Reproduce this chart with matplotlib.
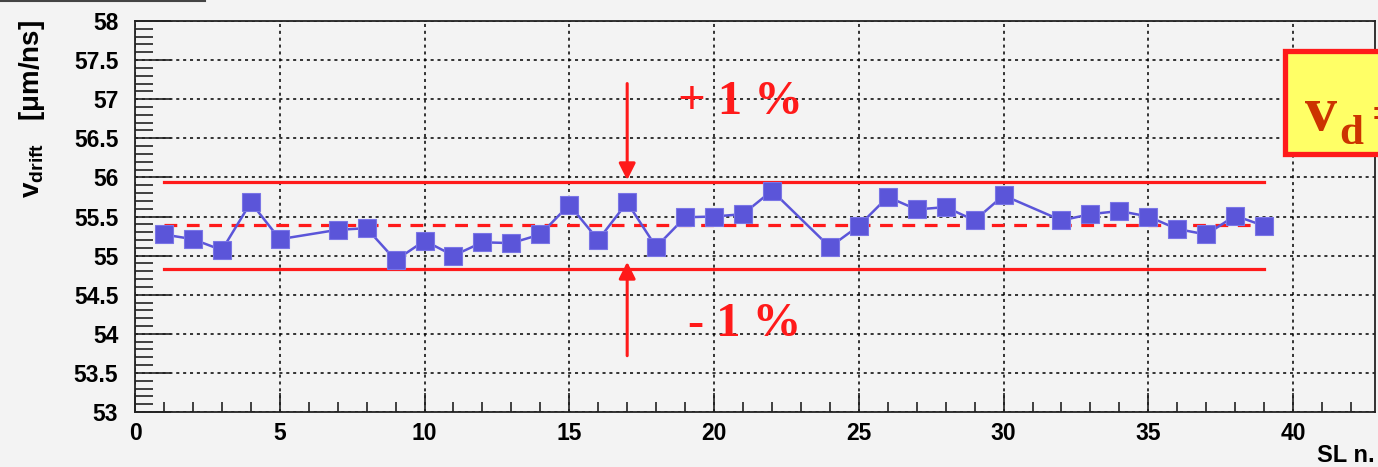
import matplotlib
matplotlib.use("Agg")
import matplotlib.pyplot as plt
from matplotlib.patches import Rectangle
from matplotlib.lines import Line2D
from matplotlib.ticker import MultipleLocator

plt.rcParams['mathtext.fontset'] = 'custom'
plt.rcParams['mathtext.rm'] = 'Liberation Sans:bold'
plt.rcParams['mathtext.bf'] = 'Liberation Sans:bold'
plt.rcParams['mathtext.it'] = 'Liberation Sans:bold'

# superlayer number and drift velocity (um/ns)
sl = [1, 2, 3, 4, 5, 7, 8, 9, 10, 11, 12, 13, 14, 15, 16, 17, 18, 19, 20, 21, 22,
      24, 25, 26, 27, 28, 29, 30, 32, 33, 34, 35, 36, 37, 38, 39]
vdrift = [55.27, 55.21, 55.07, 55.68, 55.21, 55.33, 55.35, 54.94, 55.19, 55.00,
          55.17, 55.16, 55.27, 55.65, 55.20, 55.68, 55.11, 55.49, 55.50, 55.53,
          55.83, 55.11, 55.38, 55.75, 55.59, 55.62, 55.45, 55.77, 55.45, 55.53,
          55.57, 55.50, 55.34, 55.27, 55.51, 55.38]

mean_v = 55.39
band_hi = 55.945
band_lo = 54.835
band_x = [1, 39]

xticks = [0, 5, 10, 15, 20, 25, 30, 35, 40]
yticks = [53, 53.5, 54, 54.5, 55, 55.5, 56, 56.5, 57, 57.5, 58]
ytick_labels = ['53', '53.5', '54', '54.5', '55', '55.5', '56', '56.5', '57', '57.5', '58']

bg = '#f3f3f3'
red = '#ff1a1a'
blue = '#5b55d9'

fig = plt.figure(figsize=(13.78, 4.67), dpi=100, facecolor=bg)
ax = fig.add_axes([135 / 1378, 1 - 412 / 467, (1375 - 135) / 1378, (412 - 21) / 467])
ax.set_facecolor(bg)

ax.set_xlim(0, 42.83)
ax.set_ylim(53, 58)

# grid
ax.set_xticks(xticks)
ax.set_yticks(yticks)
ax.set_yticklabels(ytick_labels)
ax.xaxis.set_minor_locator(MultipleLocator(1))
ax.yaxis.set_minor_locator(MultipleLocator(0.1))
ax.grid(True, which='major', color='black', linestyle=(0, (2, 2.5)), linewidth=1.1)
ax.set_axisbelow(True)

ax.tick_params(which='major', direction='in', length=26, width=1.2, color='#222222',
               labelsize=16.5, pad=12)
ax.tick_params(axis='x', which='major', length=14, pad=7)
ax.tick_params(axis='y', which='minor', direction='in', length=13, width=1.2, color='#222222')
ax.tick_params(axis='x', which='minor', direction='in', length=7, width=1.2, color='#222222')
for lab in ax.get_xticklabels() + ax.get_yticklabels():
    lab.set_fontfamily('Liberation Sans')
    lab.set_fontweight('bold')
for sp in ax.spines.values():
    sp.set_linewidth(1.3)
    sp.set_color('#222222')

# +-1% band
ax.plot(band_x, [band_hi, band_hi], color=red, lw=2.3, zorder=3)
ax.plot(band_x, [band_lo, band_lo], color=red, lw=2.3, zorder=3)
ax.plot(band_x, [mean_v, mean_v], color=red, lw=2.3, linestyle=(0, (4, 3)), zorder=3)

# data
ax.plot(sl, vdrift, color=blue, lw=1.8, marker='s', markersize=13.5,
        markerfacecolor=blue, markeredgecolor='#7a75e6', markeredgewidth=0.8, zorder=4)

# arrows and labels
arrow = dict(arrowstyle='-|>', color=red, lw=2.2, mutation_scale=25, shrinkA=0, shrinkB=0)
ax.annotate('', xy=(17, band_hi + 0.02), xytext=(17, 57.2), arrowprops=arrow, zorder=5)
ax.annotate('', xy=(17, 54.92), xytext=(17, 53.72), arrowprops=arrow, zorder=5)
ax.text(20.9, 56.97, '+ 1 %', color=red, fontsize=35, fontweight='bold',
        family='Liberation Serif', ha='center', va='center', zorder=5)
ax.text(21.05, 54.13, '- 1 %', color=red, fontsize=35, fontweight='bold',
        family='Liberation Serif', ha='center', va='center', zorder=5)

# axis titles
fig.text(32 / 1378, 1 - 20 / 467, r'$\mathbf{v_{drift}}$   [μm/ns]', rotation=90,
         ha='center', va='top', fontsize=20, fontweight='bold', family='Liberation Sans')
fig.text(1375 / 1378, 1 - 455 / 467, 'SL n.', ha='right', va='center',
         fontsize=17, fontweight='bold', family='Liberation Sans')

# result box on the right (cut off by the page edge)
fig.patches.append(Rectangle((1285 / 1378, 1 - 154 / 467), 200 / 1378, 103 / 467,
                             transform=fig.transFigure, facecolor='#ffff66',
                             edgecolor=red, linewidth=3.8, zorder=10))
fig.text(1305 / 1378, 1 - 130 / 467, 'v', color='#cc3300', fontsize=46,
         fontweight='bold', family='Liberation Serif', ha='left', va='baseline', zorder=11)
fig.text(1339 / 1378, 1 - 144 / 467, 'd', color='#cc3300', fontsize=31,
         fontweight='bold', family='Liberation Serif', ha='left', va='baseline', zorder=11)
fig.text(1372 / 1378, 1 - 128 / 467, '=', color='#cc3300', fontsize=34,
         fontweight='bold', family='Liberation Serif', ha='left', va='baseline', zorder=11)

# frame edge of title box at top left
fig.lines.append(Line2D([0, 205 / 1378], [1 - 1 / 467, 1 - 1 / 467],
                        transform=fig.transFigure, color='#444444', lw=1.5))

fig.savefig('out.png', dpi=100, facecolor=bg)
